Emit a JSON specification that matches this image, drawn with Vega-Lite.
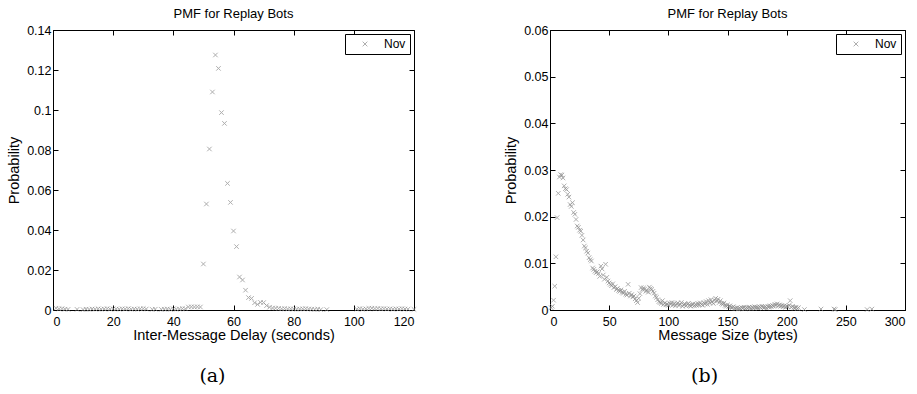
{
  "$schema": "https://vega.github.io/schema/vega-lite/v6.json",
  "background": "white",
  "padding": {"left": 6, "top": 7, "right": 5, "bottom": 5},
  "spacing": 84,
  "resolve": {"scale": {"color": "independent"}, "legend": {"color": "independent"}},
  "config": {
    "font": "Liberation Sans",
    "view": {"stroke": "black", "strokeWidth": 1},
    "axis": {
      "grid": false,
      "domainColor": "black",
      "tickColor": "black",
      "labelColor": "black",
      "titleColor": "black",
      "labelFont": "Liberation Sans",
      "titleFont": "Liberation Sans",
      "labelFontSize": 12.5,
      "titleFontSize": 14.5,
      "titleFontWeight": "normal",
      "tickSize": -5,
      "format": "~r"
    },
    "axisX": {"labelPadding": 10},
    "axisY": {"labelPadding": 7},
    "title": {"font": "Liberation Sans", "fontSize": 13, "fontWeight": "normal", "color": "black"},
    "legend": {
      "offset": 4,
      "strokeColor": "black",
      "fillColor": "white",
      "padding": 4,
      "symbolStrokeColor": "#8c8c8c",
      "symbolStrokeWidth": 1,
      "symbolSize": 22,
      "symbolType": "M-1,-1L1,1M-1,1L1,-1",
      "symbolOffset": 10,
      "labelOffset": 13,
      "labelFont": "Liberation Sans",
      "labelFontSize": 12,
      "labelColor": "black"
    }
  },
  "datasets": {
    "a": [
      {"delay": 1, "prob": 0.0009}, {"delay": 2, "prob": 0.0006}, {"delay": 3, "prob": 0.0007}, {"delay": 4, "prob": 0.0004},
      {"delay": 5, "prob": 0.0003}, {"delay": 8, "prob": 0.0003}, {"delay": 10, "prob": 0.0002}, {"delay": 11, "prob": 0.0004},
      {"delay": 12, "prob": 0.0003}, {"delay": 13, "prob": 0.0005}, {"delay": 14, "prob": 0.0004}, {"delay": 15, "prob": 0.0006},
      {"delay": 16, "prob": 0.0004}, {"delay": 17, "prob": 0.0005}, {"delay": 18, "prob": 0.0007}, {"delay": 19, "prob": 0.0004},
      {"delay": 20, "prob": 0.0006}, {"delay": 21, "prob": 0.0005}, {"delay": 22, "prob": 0.0004}, {"delay": 23, "prob": 0.0006},
      {"delay": 24, "prob": 0.0005}, {"delay": 25, "prob": 0.0007}, {"delay": 26, "prob": 0.0004}, {"delay": 27, "prob": 0.0005},
      {"delay": 28, "prob": 0.0004}, {"delay": 29, "prob": 0.0006}, {"delay": 30, "prob": 0.0007}, {"delay": 31, "prob": 0.0005},
      {"delay": 33, "prob": 0.0003}, {"delay": 34, "prob": 0.0004}, {"delay": 36, "prob": 0.0003}, {"delay": 37, "prob": 0.0004},
      {"delay": 38, "prob": 0.0005}, {"delay": 39, "prob": 0.0003}, {"delay": 40, "prob": 0.0006}, {"delay": 41, "prob": 0.0004},
      {"delay": 42, "prob": 0.0005}, {"delay": 43, "prob": 0.0007}, {"delay": 44, "prob": 0.0006}, {"delay": 45, "prob": 0.0015},
      {"delay": 46, "prob": 0.0016}, {"delay": 47, "prob": 0.0015}, {"delay": 48, "prob": 0.0016}, {"delay": 49, "prob": 0.0015},
      {"delay": 50, "prob": 0.023}, {"delay": 51, "prob": 0.053}, {"delay": 52, "prob": 0.0805}, {"delay": 53, "prob": 0.109},
      {"delay": 54, "prob": 0.1275}, {"delay": 55, "prob": 0.1208}, {"delay": 56, "prob": 0.0987}, {"delay": 57, "prob": 0.0933},
      {"delay": 58, "prob": 0.0633}, {"delay": 59, "prob": 0.0538}, {"delay": 60, "prob": 0.0395}, {"delay": 61, "prob": 0.0317},
      {"delay": 62, "prob": 0.0165}, {"delay": 63, "prob": 0.015}, {"delay": 64, "prob": 0.0099}, {"delay": 65, "prob": 0.0062},
      {"delay": 66, "prob": 0.0058}, {"delay": 67, "prob": 0.0036}, {"delay": 68, "prob": 0.0028}, {"delay": 69, "prob": 0.0038},
      {"delay": 70, "prob": 0.0037}, {"delay": 71, "prob": 0.0022}, {"delay": 72, "prob": 0.0014}, {"delay": 73, "prob": 0.001},
      {"delay": 74, "prob": 0.0009}, {"delay": 75, "prob": 0.0008}, {"delay": 76, "prob": 0.0006}, {"delay": 77, "prob": 0.0007},
      {"delay": 78, "prob": 0.0005}, {"delay": 79, "prob": 0.0006}, {"delay": 80, "prob": 0.0005}, {"delay": 81, "prob": 0.0004},
      {"delay": 82, "prob": 0.0005}, {"delay": 83, "prob": 0.0006}, {"delay": 84, "prob": 0.0007}, {"delay": 85, "prob": 0.0005},
      {"delay": 86, "prob": 0.0004}, {"delay": 87, "prob": 0.0003}, {"delay": 88, "prob": 0.0004}, {"delay": 89, "prob": 0.0002},
      {"delay": 91, "prob": 0.0002}, {"delay": 101, "prob": 0.0004}, {"delay": 102, "prob": 0.0007}, {"delay": 103, "prob": 0.0004},
      {"delay": 104, "prob": 0.0006}, {"delay": 105, "prob": 0.0008}, {"delay": 106, "prob": 0.0009}, {"delay": 107, "prob": 0.0007},
      {"delay": 108, "prob": 0.0008}, {"delay": 109, "prob": 0.0006}, {"delay": 110, "prob": 0.0007}, {"delay": 111, "prob": 0.0005},
      {"delay": 112, "prob": 0.0006}, {"delay": 113, "prob": 0.0004}, {"delay": 114, "prob": 0.0006}, {"delay": 115, "prob": 0.0005},
      {"delay": 116, "prob": 0.0007}, {"delay": 117, "prob": 0.0005}, {"delay": 118, "prob": 0.0004}, {"delay": 120, "prob": 0.0003}
    ],
    "b": [
      {"size": 1, "prob": 0.0005}, {"size": 2, "prob": 0.0008}, {"size": 3, "prob": 0.0021}, {"size": 4, "prob": 0.0051},
      {"size": 5, "prob": 0.0114}, {"size": 6, "prob": 0.0198}, {"size": 7, "prob": 0.025}, {"size": 8, "prob": 0.0285},
      {"size": 9, "prob": 0.029}, {"size": 10, "prob": 0.0289}, {"size": 11, "prob": 0.0283}, {"size": 12, "prob": 0.0266},
      {"size": 13, "prob": 0.026}, {"size": 14, "prob": 0.0258}, {"size": 15, "prob": 0.0248}, {"size": 16, "prob": 0.0242},
      {"size": 17, "prob": 0.0226}, {"size": 18, "prob": 0.0222}, {"size": 19, "prob": 0.023}, {"size": 20, "prob": 0.0209},
      {"size": 21, "prob": 0.0205}, {"size": 22, "prob": 0.0194}, {"size": 23, "prob": 0.018}, {"size": 24, "prob": 0.0177},
      {"size": 25, "prob": 0.0171}, {"size": 26, "prob": 0.0169}, {"size": 27, "prob": 0.016}, {"size": 28, "prob": 0.015},
      {"size": 29, "prob": 0.0137}, {"size": 30, "prob": 0.0133}, {"size": 31, "prob": 0.0126}, {"size": 32, "prob": 0.0122},
      {"size": 33, "prob": 0.0112}, {"size": 34, "prob": 0.0108}, {"size": 35, "prob": 0.0105}, {"size": 36, "prob": 0.009},
      {"size": 37, "prob": 0.0087}, {"size": 38, "prob": 0.0083}, {"size": 39, "prob": 0.008}, {"size": 40, "prob": 0.0082},
      {"size": 41, "prob": 0.0078}, {"size": 42, "prob": 0.0072}, {"size": 43, "prob": 0.0094}, {"size": 44, "prob": 0.0088},
      {"size": 45, "prob": 0.0075}, {"size": 46, "prob": 0.0066}, {"size": 47, "prob": 0.0098}, {"size": 48, "prob": 0.007},
      {"size": 49, "prob": 0.0062}, {"size": 50, "prob": 0.0058}, {"size": 51, "prob": 0.0055}, {"size": 52, "prob": 0.0052},
      {"size": 53, "prob": 0.0056}, {"size": 54, "prob": 0.0048}, {"size": 55, "prob": 0.005}, {"size": 56, "prob": 0.0044},
      {"size": 57, "prob": 0.0046}, {"size": 58, "prob": 0.0042}, {"size": 59, "prob": 0.004}, {"size": 60, "prob": 0.0043},
      {"size": 61, "prob": 0.0038}, {"size": 62, "prob": 0.0036}, {"size": 63, "prob": 0.004}, {"size": 64, "prob": 0.0034},
      {"size": 65, "prob": 0.0032}, {"size": 66, "prob": 0.0055}, {"size": 67, "prob": 0.0036}, {"size": 68, "prob": 0.003},
      {"size": 69, "prob": 0.0033}, {"size": 70, "prob": 0.0028}, {"size": 71, "prob": 0.003}, {"size": 72, "prob": 0.0024},
      {"size": 73, "prob": 0.002}, {"size": 74, "prob": 0.0016}, {"size": 75, "prob": 0.0025}, {"size": 76, "prob": 0.0035},
      {"size": 77, "prob": 0.0048}, {"size": 78, "prob": 0.0044}, {"size": 79, "prob": 0.0047}, {"size": 80, "prob": 0.0045},
      {"size": 81, "prob": 0.004}, {"size": 82, "prob": 0.0042}, {"size": 83, "prob": 0.0038}, {"size": 84, "prob": 0.0049},
      {"size": 85, "prob": 0.0046}, {"size": 86, "prob": 0.0044}, {"size": 87, "prob": 0.004}, {"size": 88, "prob": 0.0036},
      {"size": 89, "prob": 0.003}, {"size": 90, "prob": 0.0027}, {"size": 91, "prob": 0.0022}, {"size": 92, "prob": 0.0018},
      {"size": 93, "prob": 0.0016}, {"size": 94, "prob": 0.0014}, {"size": 95, "prob": 0.002}, {"size": 96, "prob": 0.0012},
      {"size": 97, "prob": 0.0015}, {"size": 98, "prob": 0.0011}, {"size": 99, "prob": 0.0013}, {"size": 100, "prob": 0.001},
      {"size": 101, "prob": 0.0015}, {"size": 102, "prob": 0.0012}, {"size": 103, "prob": 0.0016}, {"size": 104, "prob": 0.0011},
      {"size": 105, "prob": 0.0014}, {"size": 106, "prob": 0.0009}, {"size": 107, "prob": 0.0013}, {"size": 108, "prob": 0.0015},
      {"size": 109, "prob": 0.001}, {"size": 110, "prob": 0.0012}, {"size": 111, "prob": 0.0016}, {"size": 112, "prob": 0.0008},
      {"size": 113, "prob": 0.0011}, {"size": 114, "prob": 0.0013}, {"size": 115, "prob": 0.0009}, {"size": 116, "prob": 0.0012},
      {"size": 117, "prob": 0.0014}, {"size": 118, "prob": 0.001}, {"size": 119, "prob": 0.0008}, {"size": 120, "prob": 0.0011},
      {"size": 121, "prob": 0.0013}, {"size": 122, "prob": 0.0009}, {"size": 123, "prob": 0.0012}, {"size": 124, "prob": 0.001},
      {"size": 125, "prob": 0.0014}, {"size": 126, "prob": 0.0011}, {"size": 127, "prob": 0.0015}, {"size": 128, "prob": 0.0012},
      {"size": 129, "prob": 0.001}, {"size": 130, "prob": 0.0016}, {"size": 131, "prob": 0.0013}, {"size": 132, "prob": 0.0018},
      {"size": 133, "prob": 0.0012}, {"size": 134, "prob": 0.002}, {"size": 135, "prob": 0.0015}, {"size": 136, "prob": 0.0022},
      {"size": 137, "prob": 0.0017}, {"size": 138, "prob": 0.0014}, {"size": 139, "prob": 0.0021}, {"size": 140, "prob": 0.0025},
      {"size": 141, "prob": 0.0019}, {"size": 142, "prob": 0.0023}, {"size": 143, "prob": 0.0016}, {"size": 144, "prob": 0.002},
      {"size": 145, "prob": 0.0014}, {"size": 146, "prob": 0.0012}, {"size": 147, "prob": 0.0015}, {"size": 148, "prob": 0.001},
      {"size": 149, "prob": 0.0008}, {"size": 150, "prob": 0.0011}, {"size": 151, "prob": 0.0007}, {"size": 152, "prob": 0.0009},
      {"size": 153, "prob": 0.0006}, {"size": 154, "prob": 0.0005}, {"size": 155, "prob": 0.0007}, {"size": 156, "prob": 0.0004},
      {"size": 157, "prob": 0.0003}, {"size": 158, "prob": 0.0005}, {"size": 159, "prob": 0.0002}, {"size": 160, "prob": 0.0004},
      {"size": 161, "prob": 0.0003}, {"size": 162, "prob": 0.0005}, {"size": 163, "prob": 0.0004}, {"size": 164, "prob": 0.0006},
      {"size": 165, "prob": 0.0003}, {"size": 166, "prob": 0.0005}, {"size": 167, "prob": 0.0004}, {"size": 168, "prob": 0.0006},
      {"size": 169, "prob": 0.0005}, {"size": 170, "prob": 0.0003}, {"size": 171, "prob": 0.0006}, {"size": 172, "prob": 0.0004},
      {"size": 173, "prob": 0.0007}, {"size": 174, "prob": 0.0005}, {"size": 175, "prob": 0.0006}, {"size": 176, "prob": 0.0004},
      {"size": 177, "prob": 0.0007}, {"size": 178, "prob": 0.0005}, {"size": 179, "prob": 0.0008}, {"size": 180, "prob": 0.0006},
      {"size": 181, "prob": 0.0005}, {"size": 182, "prob": 0.0007}, {"size": 183, "prob": 0.0004}, {"size": 184, "prob": 0.0008},
      {"size": 185, "prob": 0.0006}, {"size": 186, "prob": 0.0009}, {"size": 187, "prob": 0.0007}, {"size": 188, "prob": 0.001},
      {"size": 189, "prob": 0.0008}, {"size": 190, "prob": 0.0012}, {"size": 191, "prob": 0.001}, {"size": 192, "prob": 0.0013},
      {"size": 193, "prob": 0.0009}, {"size": 194, "prob": 0.0011}, {"size": 195, "prob": 0.0008}, {"size": 196, "prob": 0.001},
      {"size": 197, "prob": 0.0007}, {"size": 198, "prob": 0.0009}, {"size": 199, "prob": 0.0006}, {"size": 200, "prob": 0.0008},
      {"size": 201, "prob": 0.0007}, {"size": 202, "prob": 0.001}, {"size": 203, "prob": 0.002}, {"size": 204, "prob": 0.0006},
      {"size": 205, "prob": 0.0008}, {"size": 206, "prob": 0.0005}, {"size": 207, "prob": 0.0004}, {"size": 208, "prob": 0.0006},
      {"size": 209, "prob": 0.0003}, {"size": 210, "prob": 0.0005}, {"size": 215, "prob": 0.0001}, {"size": 229, "prob": 0.0002},
      {"size": 240, "prob": 0.0002}, {"size": 241, "prob": 0.0001}, {"size": 268, "prob": 0.0001}, {"size": 272, "prob": 0.0002}
    ]
  },
  "hconcat": [
    {
      "title": {"text": "(a)", "orient": "bottom", "anchor": "middle", "font": "DejaVu Serif", "fontSize": 19, "offset": 24},
      "resolve": {"scale": {"color": "independent"}, "legend": {"color": "independent"}},
      "vconcat": [
        {
          "width": 361,
          "height": 280,
          "title": {"text": "PMF for Replay Bots", "offset": 3},
          "data": {"name": "a"},
          "layer": [
            {
              "mark": {"type": "point", "shape": "M-1,-1L1,1M-1,1L1,-1", "filled": false, "size": 20, "strokeWidth": 1},
              "encoding": {
                "x": {"field": "delay", "type": "quantitative", "scale": {"domain": [0, 120], "nice": false},
                      "axis": {"title": "Inter-Message Delay (seconds)", "values": [0, 20, 40, 60, 80, 100, 120], "titlePadding": 1}},
                "y": {"field": "prob", "type": "quantitative", "scale": {"domain": [0, 0.14], "nice": false},
                      "axis": {"title": "Probability", "values": [0, 0.02, 0.04, 0.06, 0.08, 0.1, 0.12, 0.14], "titlePadding": 5}},
                "color": {"datum": "Nov", "type": "nominal", "scale": {"range": ["#8c8c8c"]}, "legend": {"title": null, "orient": "top-right"}}
              }
            },
            {
              "mark": {"type": "point", "opacity": 0},
              "encoding": {
                "x": {"field": "delay", "type": "quantitative",
                      "axis": {"orient": "top", "labels": false, "title": null, "domain": false, "values": [0, 20, 40, 60, 80, 100, 120]}},
                "y": {"field": "prob", "type": "quantitative",
                      "axis": {"orient": "right", "labels": false, "title": null, "domain": false, "values": [0, 0.02, 0.04, 0.06, 0.08, 0.1, 0.12, 0.14]}}
              }
            }
          ],
          "resolve": {"axis": {"x": "independent", "y": "independent"}}
        }
      ]
    },
    {
      "title": {"text": "(b)", "orient": "bottom", "anchor": "middle", "font": "DejaVu Serif", "fontSize": 19, "offset": 24},
      "resolve": {"scale": {"color": "independent"}, "legend": {"color": "independent"}},
      "vconcat": [
        {
          "width": 355,
          "height": 280,
          "title": {"text": "PMF for Replay Bots", "offset": 3},
          "data": {"name": "b"},
          "layer": [
            {
              "mark": {"type": "point", "shape": "M-1,-1L1,1M-1,1L1,-1", "filled": false, "size": 20, "strokeWidth": 1},
              "encoding": {
                "x": {"field": "size", "type": "quantitative", "scale": {"domain": [0, 300], "nice": false},
                      "axis": {"title": "Message Size (bytes)", "values": [0, 50, 100, 150, 200, 250, 300], "titlePadding": 1}},
                "y": {"field": "prob", "type": "quantitative", "scale": {"domain": [0, 0.06], "nice": false},
                      "axis": {"title": "Probability", "values": [0, 0.01, 0.02, 0.03, 0.04, 0.05, 0.06], "titlePadding": 5}},
                "color": {"datum": "Nov", "type": "nominal", "scale": {"range": ["#8c8c8c"]}, "legend": {"title": null, "orient": "top-right"}}
              }
            },
            {
              "mark": {"type": "point", "opacity": 0},
              "encoding": {
                "x": {"field": "size", "type": "quantitative",
                      "axis": {"orient": "top", "labels": false, "title": null, "domain": false, "values": [0, 50, 100, 150, 200, 250, 300]}},
                "y": {"field": "prob", "type": "quantitative",
                      "axis": {"orient": "right", "labels": false, "title": null, "domain": false, "values": [0, 0.01, 0.02, 0.03, 0.04, 0.05, 0.06]}}
              }
            }
          ],
          "resolve": {"axis": {"x": "independent", "y": "independent"}}
        }
      ]
    }
  ]
}
